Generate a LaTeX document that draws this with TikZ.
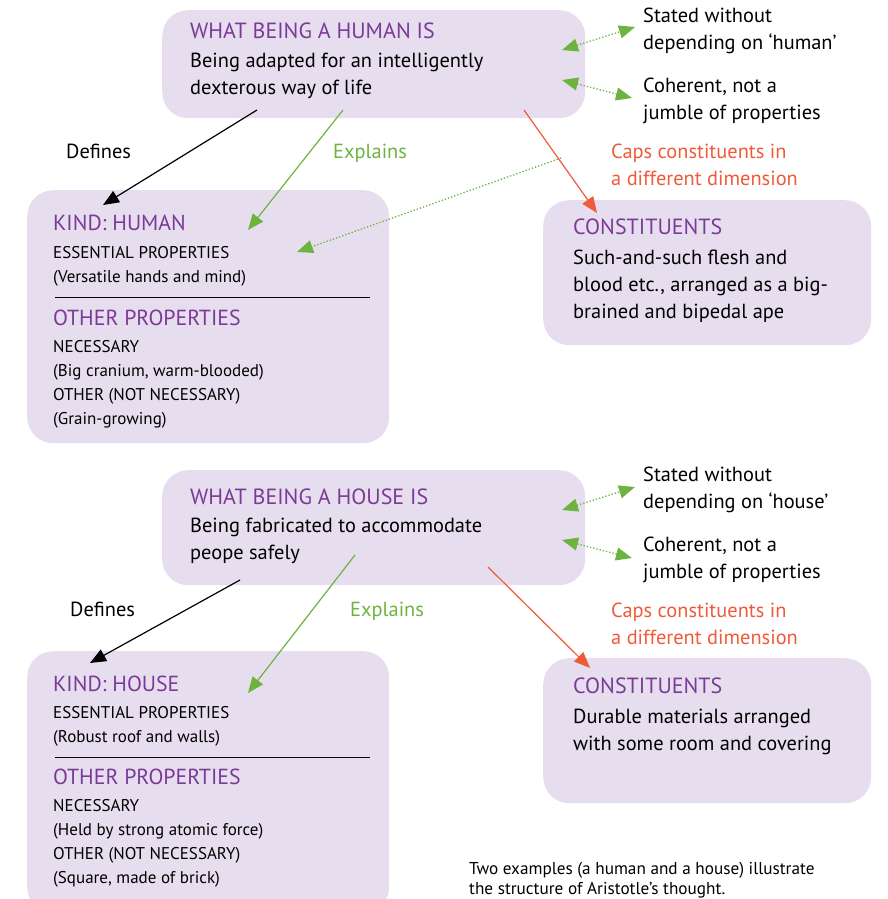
\documentclass[tikz,border=0pt]{standalone}
\usepackage{fontspec}
\setmainfont{PT Sans}
\usetikzlibrary{arrows.meta,positioning,calc}
\definecolor{boxfill}{HTML}{E6DEEF}
\definecolor{headpurple}{HTML}{7B3A96}
\definecolor{argreen}{HTML}{6DB33F}
\definecolor{arred}{HTML}{EE5A3A}

\begin{document}
\begin{tikzpicture}[x=1pt,y=-1pt,>={Triangle[length=16pt,width=13pt]},
  box/.style={fill=boxfill,rounded corners=26pt,anchor=north west,inner sep=0pt},
  txt/.style={anchor=north west,inner sep=0pt,align=left,font=\fontsize{20.4}{27}\selectfont},
  head/.style={txt,text=headpurple,font=\fontsize{22}{27}\selectfont},
  bighead/.style={txt,text=headpurple,font=\fontsize{21.8}{27}\selectfont},
  small/.style={txt,font=\fontsize{17}{24}\selectfont},
  note/.style={txt,font=\fontsize{17.2}{20}\selectfont},
  defarrow/.style={->,line width=1.2pt},
  exparrow/.style={->,line width=1.2pt,argreen},
  caparrow/.style={->,line width=1.2pt,arred},
  dotarrow/.style={line width=1.3pt,argreen,dotted},
]
\useasboundingbox (0,0) rectangle (887,899);
% ---------- human ----------
\node[box,minimum width=423pt,minimum height=108pt] (whath) at (162,10) {};
\node[head] (whathT) at (190,23) {WHAT BEING A HUMAN IS};
\node[txt] (whathB) at (190,53) {Being adapted for an intelligently\\dexterous way of life};
\node[txt] (stath) at (643,8) {Stated without\\depending on ‘human’};
\node[txt] (cohh) at (643,78) {Coherent, not a\\jumble of properties};
\node[txt,text=arred] (capsh) at (611,144) {Caps constituents in\\a different dimension};
\node[txt] (defh) at (66,144) {Defines};
\node[txt,text=argreen] (exph) at (333,144) {Explains};
% kind box
\node[box,minimum width=362pt,minimum height=253pt] (kindh) at (27,190) {};
\node[bighead] (kindhT) at (53,215) {KIND: HUMAN};
\node[small] (kindhE) at (53,246) {ESSENTIAL PROPERTIES\\(Versatile hands and mind)};
\draw[line width=0.8pt] (55,297) -- (370,297);
\node[bighead] (kindhO) at (53,310) {OTHER PROPERTIES};
\node[small] (kindhN) at (53,340) {NECESSARY\\(Big cranium, warm-blooded)\\OTHER (NOT NECESSARY)\\(Grain-growing)};
% constituents
\node[box,minimum width=328pt,minimum height=145pt] (consth) at (543,200) {};
\node[head] (consthT) at (573,219) {CONSTITUENTS};
\node[txt] (consthB) at (573,250) {Such-and-such flesh and\\blood etc., arranged as a big-\\brained and bipedal ape};
% arrows
\coordinate (h1) at (257,110); \coordinate (h2) at (103,205);
\coordinate (h3) at (343,110); \coordinate (h4) at (248,230);
\coordinate (h5) at (524,110); \coordinate (h6) at (597,213);
\coordinate (h7) at (561,158); \coordinate (h8) at (297,252);
\coordinate (h9) at (562,50);  \coordinate (h10) at (635,27);
\coordinate (h11) at (562,80); \coordinate (h12) at (632,98);
\draw[defarrow] (h1) -- (h2);
\draw[exparrow] (h3) -- (h4);
\draw[caparrow] (h5) -- (h6);
\draw[dotarrow,->] (h7) -- (h8);
\draw[dotarrow,<->] (h9) -- (h10);
\draw[dotarrow,<->] (h11) -- (h12);
% ---------- house ----------
\node[box,minimum width=423pt,minimum height=115pt] (whato) at (162,470) {};
\node[head] (whatoT) at (190,489) {WHAT BEING A HOUSE IS};
\node[txt] (whatoB) at (190,518) {Being fabricated to accommodate\\peope safely};
\node[txt] (stato) at (643,467) {Stated without\\depending on ‘house’};
\node[txt] (coho) at (643,537) {Coherent, not a\\jumble of properties};
\node[txt,text=arred] (capso) at (611,603) {Caps constituents in\\a different dimension};
\node[txt] (defo) at (70,602) {Defines};
\node[txt,text=argreen] (expo) at (350,602) {Explains};
% kind box
\node[box,minimum width=362pt,minimum height=262pt] (kindo) at (27,651) {};
\node[bighead] (kindoT) at (53,676) {KIND: HOUSE};
\node[small] (kindoE) at (53,706) {ESSENTIAL PROPERTIES\\(Robust roof and walls)};
\draw[line width=0.8pt] (55,757) -- (370,757);
\node[bighead] (kindoO) at (53,769) {OTHER PROPERTIES};
\node[small] (kindoN) at (53,799) {NECESSARY\\(Held by strong atomic force)\\OTHER (NOT NECESSARY)\\(Square, made of brick)};
% constituents
\node[box,minimum width=328pt,minimum height=145pt] (consto) at (543,658) {};
\node[head] (constoT) at (573,678) {CONSTITUENTS};
\node[txt] (constoB) at (573,709) {Durable materials arranged\\with some room and covering};
% arrows
\coordinate (o1) at (240,580); \coordinate (o2) at (90,663);
\coordinate (o3) at (355,555); \coordinate (o4) at (248,693);
\coordinate (o5) at (488,567); \coordinate (o6) at (590,668);
\coordinate (o9) at (562,510); \coordinate (o10) at (635,487);
\coordinate (o11) at (562,540); \coordinate (o12) at (632,558);
\draw[defarrow] (o1) -- (o2);
\draw[exparrow] (o3) -- (o4);
\draw[caparrow] (o5) -- (o6);
\draw[dotarrow,<->] (o9) -- (o10);
\draw[dotarrow,<->] (o11) -- (o12);
% caption
\node[note] (cap) at (469,862) {Two examples (a human and a house) illustrate\\the structure of Aristotle’s thought.};
\end{tikzpicture}
\end{document}
